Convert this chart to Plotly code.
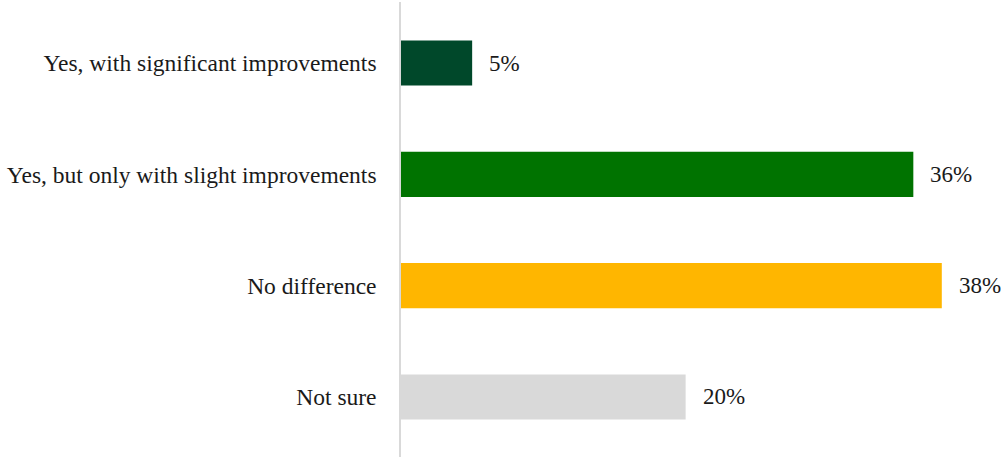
import plotly.graph_objects as go

categories = [
    "Yes, with significant improvements",
    "Yes, but only with slight improvements",
    "No difference",
    "Not sure",
]
values = [5, 36, 38, 20]
labels = ["5%", "36%", "38%", "20%"]
colors = ["#00482A", "#007300", "#FFB600", "#D9D9D9"]

positions = list(range(len(categories)))
font_family = "Liberation Serif, Times New Roman, serif"
text_color = "#1A1A1A"

fig = go.Figure(
    go.Bar(
        x=values,
        y=positions,
        orientation="h",
        marker=dict(color=colors, line=dict(width=0)),
        width=0.405,
        hoverinfo="skip",
    )
)

for v, p, t in zip(values, positions, labels):
    fig.add_annotation(
        x=v, y=p, text=t, showarrow=False,
        xanchor="left", yanchor="middle", xshift=15,
        font=dict(family=font_family, size=23, color=text_color),
    )

fig.update_layout(
    width=1001,
    height=457,
    margin=dict(l=401, r=0, t=2, b=0),
    paper_bgcolor="white",
    plot_bgcolor="white",
    showlegend=False,
    font=dict(family=font_family, size=23.5, color=text_color),
    xaxis=dict(
        range=[0, 42.16],
        showgrid=False,
        zeroline=False,
        showticklabels=False,
        showline=False,
    ),
    yaxis=dict(
        range=[3.539, -0.548],
        tickvals=positions,
        ticktext=categories,
        showgrid=False,
        zeroline=False,
        showline=True,
        linecolor="#D9D9D9",
        linewidth=1.5,
        ticks="",
        ticklabelstandoff=18,
    ),
)

fig.write_html("out.html")
